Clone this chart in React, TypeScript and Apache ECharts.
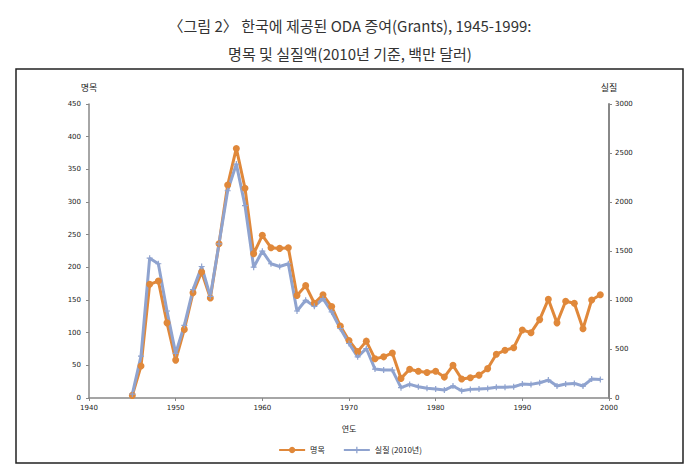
import React, { useEffect, useRef } from "react";
import * as echarts from "echarts";

const years = [
  1945, 1946, 1947, 1948, 1949, 1950, 1951, 1952, 1953, 1954, 1955, 1956, 1957, 1958, 1959,
  1960, 1961, 1962, 1963, 1964, 1965, 1966, 1967, 1968, 1969, 1970, 1971, 1972, 1973, 1974,
  1975, 1976, 1977, 1978, 1979, 1980, 1981, 1982, 1983, 1984, 1985, 1986, 1987, 1988, 1989,
  1990, 1991, 1992, 1993, 1994, 1995, 1996, 1997, 1998, 1999,
];

// 명목 (left axis)
const nominal = [
  4, 49, 174, 179, 115, 58, 105, 161, 193, 153, 236, 326, 382, 321, 221,
  249, 230, 229, 230, 157, 172, 145, 158, 140, 110, 88, 71, 87, 60, 63,
  69, 30, 44, 41, 39, 41, 32, 50, 29, 31, 35, 45, 67, 73, 77,
  104, 100, 120, 151, 115, 148, 145, 106, 150, 158,
];

// 실질 (2010년) (right axis)
const real = [
  40, 427, 1427, 1370, 888, 455, 742, 1105, 1342, 1037, 1573, 2115, 2387, 1963, 1335,
  1498, 1370, 1342, 1370, 888, 997, 935, 1014, 878, 709, 556, 420, 505, 295, 285,
  285, 105, 139, 115, 99, 92, 81, 122, 74, 88, 92, 98, 109, 109, 115,
  142, 139, 156, 183, 122, 142, 149, 122, 193, 190,
];

const titleLines = ["〈그림 2〉 한국에 제공된 ODA 증여(Grants), 1945-1999:", "명목 및 실질액(2010년 기준, 백만 달러)"];
const seriesNames = ["명목", "실질 (2010년)"];

const ORANGE = "#E0883A";
const BLUE = "#8FA3CF";
const PLUS = "path://M4,0H6V4H10V6H6V10H4V6H0V4H4Z";
const KR = "'Noto Sans CJK KR', 'Noto Sans', sans-serif";
const NUM = "'DejaVu Sans', sans-serif";

export default function App() {
  const ref = useRef<HTMLDivElement>(null);
  useEffect(() => {
    if (!ref.current) return;
    const chart = echarts.init(ref.current, undefined, { renderer: "svg" });
    const axisLabel = {
      fontSize: 7,
      color: "#222",
      fontFamily: NUM,
      formatter: (v: number) => String(v),
    };
    chart.setOption({
      animation: false,
      backgroundColor: "#fff",
      title: {
        text: titleLines.join("\n"),
        left: "center",
        top: 6,
        textStyle: {
          fontSize: 15,
          fontWeight: "normal",
          color: "#333",
          fontFamily: KR,
          lineHeight: 28,
        },
      },
      graphic: [
        {
          type: "rect",
          shape: { x: 16, y: 69, width: 667, height: 394 },
          style: { fill: "none", stroke: "#222", lineWidth: 1.5 },
          silent: true,
        },
      ],
      legend: {
        left: "center",
        top: 441,
        itemWidth: 26,
        itemHeight: 8,
        itemGap: 18,
        textStyle: { fontSize: 8, color: "#222", fontFamily: KR },
        data: seriesNames,
      },
      grid: { left: 89, right: 91, top: 104, bottom: 74, containLabel: false },
      xAxis: {
        type: "value",
        min: 1940,
        max: 2000,
        interval: 10,
        name: "연도",
        nameLocation: "middle",
        nameGap: 26,
        nameTextStyle: { fontSize: 8, color: "#222", fontFamily: KR },
        axisLine: { lineStyle: { color: "#888", width: 1.5 } },
        axisTick: { show: true, length: 3, lineStyle: { color: "#888" } },
        axisLabel: { ...axisLabel, margin: 6 },
        splitLine: { show: false },
      },
      yAxis: [
        {
          type: "value",
          min: 0,
          max: 450,
          interval: 50,
          name: "명목",
          nameLocation: "end",
          nameGap: 12,
          nameTextStyle: { fontSize: 9, color: "#222", fontFamily: KR, align: "center" },
          axisLine: { show: true, lineStyle: { color: "#888", width: 1.5 } },
          axisTick: { show: true, length: 3, lineStyle: { color: "#888" } },
          axisLabel: { ...axisLabel, margin: 8 },
          splitLine: { show: false },
        },
        {
          type: "value",
          min: 0,
          max: 3000,
          interval: 500,
          position: "right",
          name: "실질",
          nameLocation: "end",
          nameGap: 12,
          nameTextStyle: { fontSize: 9, color: "#222", fontFamily: KR, align: "center" },
          axisLine: { show: true, lineStyle: { color: "#888", width: 2 } },
          axisTick: { show: true, length: 3, lineStyle: { color: "#888" } },
          axisLabel: { ...axisLabel, margin: 6 },
          splitLine: { show: false },
        },
      ],
      series: [
        {
          name: seriesNames[0],
          type: "line",
          yAxisIndex: 0,
          data: years.map((y, i) => [y, nominal[i]]),
          symbol: "circle",
          symbolSize: 7,
          lineStyle: { color: ORANGE, width: 3 },
          itemStyle: { color: ORANGE },
        },
        {
          name: seriesNames[1],
          type: "line",
          yAxisIndex: 1,
          data: years.map((y, i) => [y, real[i]]),
          symbol: PLUS,
          symbolSize: 6,
          lineStyle: { color: BLUE, width: 3 },
          itemStyle: { color: BLUE },
        },
      ],
    });
    return () => chart.dispose();
  }, []);
  return (
    <div
      ref={ref}
      style={{ position: "absolute", left: 0, top: 0, width: 700, height: 472 }}
    />
  );
}
